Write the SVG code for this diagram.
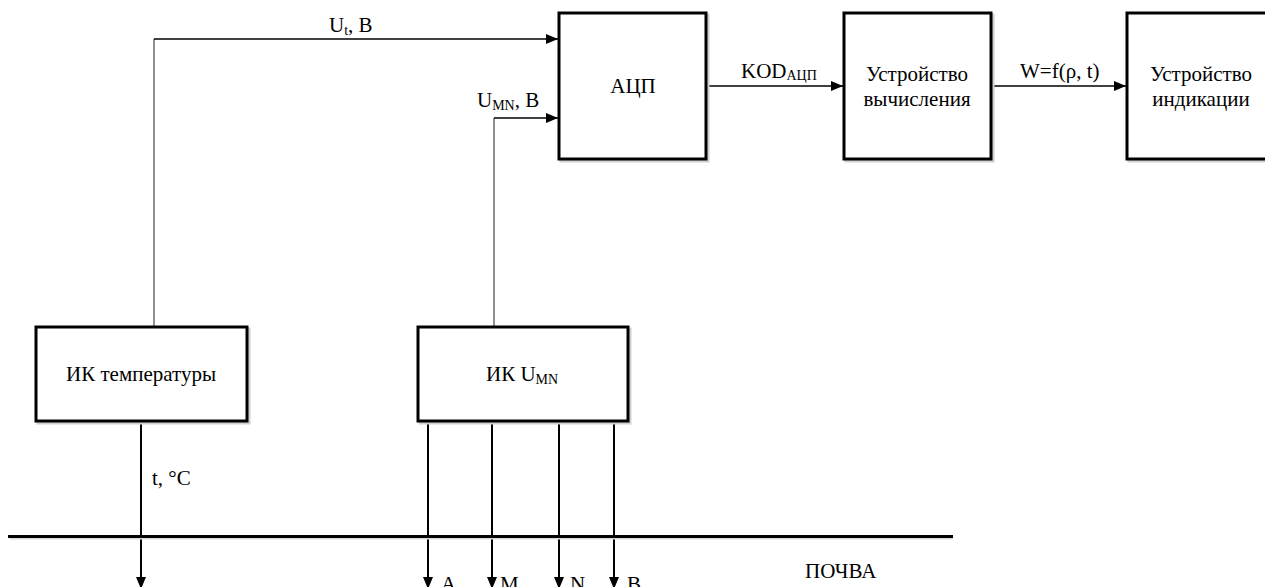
<svg xmlns="http://www.w3.org/2000/svg" width="1265" height="587" viewBox="0 0 1265 587">
<style>
text{font-family:"Liberation Serif","DejaVu Serif","Noto Serif",serif;font-size:21px;fill:#000}
.sub{font-size:14px}
.box{fill:#fff;stroke:#000;stroke-width:3}
.shadow{fill:none;stroke:#d0d0d0;stroke-width:3}
.thin{fill:none;stroke:#000;stroke-width:1.3}
.up{fill:none;stroke:#555;stroke-width:1.3}
.down{fill:none;stroke:#000;stroke-width:2}
</style>
<defs>
<marker id="ah" viewBox="0 0 12 10" refX="12" refY="5" markerWidth="12" markerHeight="10" markerUnits="userSpaceOnUse" orient="auto">
<path d="M0,0 L12,5 L0,10 Z" fill="#000"/>
</marker>
</defs>
<rect width="1265" height="587" fill="#fff"/>

<g id="connectors">
<path class="up" d="M154,327 V39"/>
<path class="thin" d="M154,39 H558" marker-end="url(#ah)"/>
<path class="up" d="M494,327 V118"/>
<path class="thin" d="M494,118 H558" marker-end="url(#ah)"/>
<path class="thin" d="M706,86 H843" marker-end="url(#ah)"/>
<path class="thin" d="M991,86 H1126" marker-end="url(#ah)"/>
<path class="down" d="M141,421 V589" marker-end="url(#ah)"/>
<path class="down" d="M428,421 V589" marker-end="url(#ah)"/>
<path class="down" d="M492,421 V589" marker-end="url(#ah)"/>
<path class="down" d="M559,421 V589" marker-end="url(#ah)"/>
<path class="down" d="M614,421 V589" marker-end="url(#ah)"/>
<text x="329" y="32">U<tspan class="sub" dy="3">t</tspan><tspan dy="-3">, B</tspan></text>
<text x="477" y="107">U<tspan class="sub" dy="3">MN</tspan><tspan dy="-3">, B</tspan></text>
<text x="741" y="78">KOD<tspan class="sub" dy="2">АЦП</tspan></text>
<text x="1020" y="78">W=f(ρ, t)</text>
<text x="152" y="485">t, °C</text>
<text x="441" y="591">A</text>
<text x="500" y="591">M</text>
<text x="570" y="591">N</text>
<text x="627" y="591">B</text>
</g>

<g id="ground">
<line x1="10" y1="538.5" x2="953" y2="538.5" stroke="#d8d8d8" stroke-width="2"/>
<line x1="8" y1="536.5" x2="953" y2="536.5" stroke="#000" stroke-width="3"/>
<text x="805" y="578">ПОЧВА</text>
</g>

<g id="adc">
<rect class="shadow" x="561" y="15" width="147" height="146"/>
<rect class="box" x="559" y="13" width="147" height="146"/>
<text x="633" y="93" text-anchor="middle">АЦП</text>
</g>

<g id="compute">
<rect class="shadow" x="846" y="15" width="147" height="146"/>
<rect class="box" x="844" y="13" width="147" height="146"/>
<text x="917" y="81" text-anchor="middle">Устройство</text>
<text x="917" y="106" text-anchor="middle">вычисления</text>
</g>

<g id="display">
<rect class="shadow" x="1129" y="15" width="147" height="146"/>
<rect class="box" x="1127" y="13" width="147" height="146"/>
<text x="1201" y="81" text-anchor="middle">Устройство</text>
<text x="1201" y="106" text-anchor="middle">индикации</text>
</g>

<g id="ik-temp">
<rect class="shadow" x="38" y="329" width="211" height="94"/>
<rect class="box" x="36" y="327" width="211" height="94"/>
<text x="141" y="381" text-anchor="middle">ИК температуры</text>
</g>

<g id="ik-umn">
<rect class="shadow" x="420" y="329" width="210" height="94"/>
<rect class="box" x="418" y="327" width="210" height="94"/>
<text x="486" y="381">ИК U<tspan class="sub" dy="3">MN</tspan></text>
</g>
</svg>
